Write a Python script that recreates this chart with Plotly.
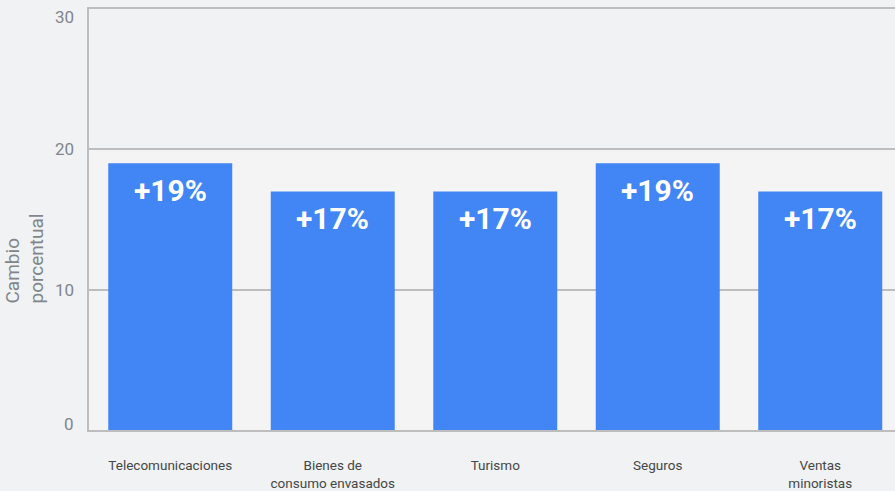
import plotly.graph_objects as go

categories = ["Telecomunicaciones", "Bienes de<br>consumo envasados", "Turismo", "Seguros", "Ventas<br>minoristas"]
values = [19, 17, 17, 19, 17]
labels = ["+19%", "+17%", "+17%", "+19%", "+17%"]
y_ticks = [0, 10, 20, 30]
y_title = "Cambio<br>porcentual"

BG = "#f1f2f4"
GRID = "#bdbdbd"
BLUE = "#4285f4"
GRAY = "#80868b"

fig = go.Figure()
fig.add_trace(go.Bar(x=categories, y=values, marker=dict(color=BLUE, line=dict(width=0)),
                     hoverinfo="skip"))

annotations = []
for c, v, t in zip(categories, values, labels):
    annotations.append(dict(x=c, y=v, xref="x", yref="y", text=t, showarrow=False,
                            yanchor="top", yshift=-8,
                            font=dict(family="Roboto", size=30, color="white", weight="bold")))
for t in y_ticks:
    shift = 0
    if t == 0:
        shift = 6
    elif t == max(y_ticks):
        shift = -8
    annotations.append(dict(x=0, y=t, xref="paper", yref="y", text=str(t), showarrow=False,
                            xanchor="right", yanchor="middle", xshift=-13, yshift=shift,
                            font=dict(family="Roboto", size=17, color=GRAY)))
annotations.append(dict(x=-0.078, y=0.41, xref="paper", yref="paper", text=y_title,
                        showarrow=False, textangle=-90, align="left", xshift=-27, yshift=-1,
                        font=dict(family="Roboto", size=19, color=GRAY)))

fig.add_shape(type="rect", xref="paper", yref="y", x0=0, x1=1, y0=0, y1=20,
              fillcolor="#f4f4f5", line=dict(width=0), layer="below")

fig.update_layout(
    width=895, height=491,
    margin=dict(l=89, r=0, t=9, b=58),
    paper_bgcolor=BG, plot_bgcolor=BG,
    bargap=0.237, showlegend=False,
    annotations=annotations,
    xaxis=dict(range=[-0.5, 4.46], showgrid=False, showline=True, linecolor=GRID,
               linewidth=2, mirror=True,
               ticks="", ticklabelstandoff=22,
               tickfont=dict(family="Roboto", size=13.5, color="#444746")),
    yaxis=dict(range=[0, 30], tickvals=y_ticks, showticklabels=False,
               showgrid=True, gridcolor=GRID, gridwidth=2,
               showline=True, linecolor=GRID, linewidth=2, zeroline=False,
               layer="below traces"),
)

fig.write_html("out.html")
